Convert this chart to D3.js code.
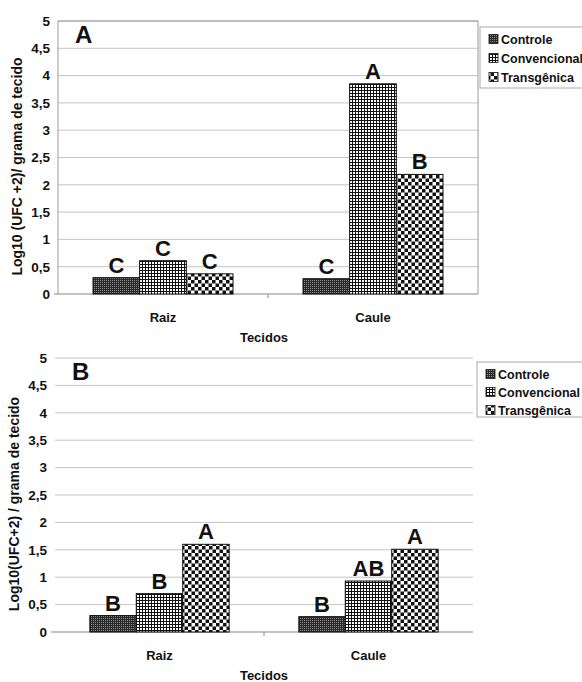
<!DOCTYPE html>
<meta charset="utf-8">
<style>
body {
  margin: 0;
  background: #fff;
}
svg text {
  font-family: "Liberation Sans", Arial, sans-serif;
  font-weight: bold;
  fill: #111;
}
.grid line {
  stroke: #c4c4c4;
  stroke-width: 1;
}
.axis--y path, .axis--y line {
  display: none;
}
.axis--y text {
  font-size: 13.5px;
  font-family: "Liberation Sans", Arial, sans-serif;
}
</style>
<body>
<svg width="582" height="682"></svg>
<script src="https://d3js.org/d3.v7.min.js"></script>
<script>

// data
var categories = ["Raiz", "Caule"];
var series = ["Controle", "Convencional", "Transgênica"];
var yTicks = [0, 0.5, 1, 1.5, 2, 2.5, 3, 3.5, 4, 4.5, 5];

var valuesA = [[0.30, 0.61, 0.37], [0.28, 3.85, 2.19]];
var lettersA = [["C", "C", "C"], ["C", "A", "B"]];

var valuesB = [[0.30, 0.70, 1.60], [0.28, 0.93, 1.51]];
var lettersB = [["B", "B", "A"], ["B", "AB", "A"]];

var ptBR = d3.formatLocale({decimal: ",", thousands: ".", grouping: [3], currency: ["R$", ""]});
var fmt = function(d) { return ptBR.format("~g")(d); };

var svg = d3.select("svg");

// fill patterns, one per series
var defs = svg.append("defs");

var p1 = defs.append("pattern").attr("id", "pat0")
    .attr("patternUnits", "userSpaceOnUse").attr("width", 2).attr("height", 2);
p1.append("rect").attr("width", 2).attr("height", 2).attr("fill", "#2a2a2a");
p1.append("rect").attr("width", 1).attr("height", 1).attr("fill", "#8a8a8a");

var p2 = defs.append("pattern").attr("id", "pat1")
    .attr("patternUnits", "userSpaceOnUse").attr("width", 3).attr("height", 3);
p2.append("rect").attr("width", 3).attr("height", 3).attr("fill", "#fff");
p2.append("rect").attr("width", 3).attr("height", 1).attr("fill", "#111");
p2.append("rect").attr("width", 1).attr("height", 3).attr("fill", "#111");

var p3 = defs.append("pattern").attr("id", "pat2")
    .attr("patternUnits", "userSpaceOnUse").attr("width", 7).attr("height", 7);
p3.append("rect").attr("width", 7).attr("height", 7).attr("fill", "#fff");
p3.append("rect").attr("width", 3.5).attr("height", 3.5).attr("fill", "#111");
p3.append("rect").attr("x", 3.5).attr("y", 3.5).attr("width", 3.5).attr("height", 3.5).attr("fill", "#111");

function drawPanel(cfg) {
  var x = d3.scaleBand().domain(categories).range([cfg.left, cfg.right]);
  var x1 = d3.scaleBand().domain(series).range([0, x.bandwidth()]).paddingOuter(0.75);
  var y = d3.scaleLinear().domain([0, 5]).range([cfg.bottom, cfg.top]);

  var g = svg.append("g");

  // gridlines
  g.append("g").attr("class", "grid")
    .selectAll("line")
    .data(yTicks.filter(function(d) { return d > 0; }))
    .enter().append("line")
      .attr("x1", cfg.left).attr("x2", cfg.right)
      .attr("y1", function(d) { return y(d); })
      .attr("y2", function(d) { return y(d); });

  if (cfg.frame) {
    g.append("path")
      .attr("d", "M" + cfg.left + "," + cfg.bottom + "V" + cfg.top + "H" + cfg.right + "V" + cfg.bottom)
      .attr("fill", "none").attr("stroke", "#9a9a9a").attr("stroke-width", 1);
  }

  // baseline with category ticks
  g.append("line")
    .attr("x1", cfg.left - 4).attr("x2", cfg.right)
    .attr("y1", y(0)).attr("y2", y(0))
    .attr("stroke", "#888").attr("stroke-width", 1.2);
  g.selectAll(".xtick")
    .data(categories.slice(1))
    .enter().append("line")
      .attr("x1", function(d) { return x(d); })
      .attr("x2", function(d) { return x(d); })
      .attr("y1", y(0)).attr("y2", y(0) + 4)
      .attr("stroke", "#888");

  g.append("g")
    .attr("class", "axis axis--y")
    .attr("transform", "translate(" + (cfg.left - 8) + ",0)")
    .call(d3.axisLeft(y).tickValues(yTicks).tickFormat(fmt).tickSize(0).tickPadding(0));

  // bars
  categories.forEach(function(c, i) {
    var grp = g.append("g").attr("transform", "translate(" + x(c) + ",0)");
    grp.selectAll("rect")
      .data(cfg.values[i])
      .enter().append("rect")
        .attr("x", function(d, j) { return x1(series[j]); })
        .attr("y", function(d) { return y(d); })
        .attr("width", x1.bandwidth())
        .attr("height", function(d) { return y(0) - y(d); })
        .attr("fill", function(d, j) { return "url(#pat" + j + ")"; })
        .attr("stroke", "#111").attr("stroke-width", 1);
    grp.selectAll(".lett")
      .data(cfg.letters[i])
      .enter().append("text")
        .attr("x", function(d, j) { return x1(series[j]) + x1.bandwidth() / 2; })
        .attr("y", function(d, j) { return y(cfg.values[i][j]) - 5; })
        .attr("text-anchor", "middle")
        .style("font-size", "22px")
        .text(function(d) { return d; });
  });

  // category labels
  g.selectAll(".cat")
    .data(categories)
    .enter().append("text")
      .attr("x", function(d) { return x(d) + x.bandwidth() / 2; })
      .attr("y", cfg.bottom + 28)
      .attr("text-anchor", "middle")
      .style("font-size", "13px")
      .text(function(d) { return d; });

  g.append("text")
    .attr("x", 264).attr("y", cfg.bottom + 48)
    .attr("text-anchor", "middle")
    .style("font-size", "13px")
    .text("Tecidos");

  g.append("text")
    .attr("transform", "translate(" + cfg.titleX + "," + ((cfg.top + cfg.bottom) / 2 + 9) + ") rotate(-90)")
    .attr("text-anchor", "middle")
    .style("font-size", "14px")
    .text(cfg.yTitle);

  // panel letter
  g.append("text")
    .attr("x", cfg.left + 17).attr("y", cfg.top + 22)
    .style("font-size", "24px")
    .text(cfg.panel);

  // legend
  var lg = svg.append("g").attr("transform", "translate(" + cfg.legX + "," + cfg.legY + ")");
  lg.append("rect")
    .attr("width", 120).attr("height", cfg.legH)
    .attr("fill", "#fff").attr("stroke", "#aaa");
  series.forEach(function(s, j) {
    var cy = 12 + j * cfg.legStep;
    lg.append("rect")
      .attr("x", 9).attr("y", cy - 4.5).attr("width", 9).attr("height", 9)
      .attr("fill", "url(#pat" + j + ")").attr("stroke", "#111").attr("stroke-width", 0.8);
    lg.append("text")
      .attr("x", 21).attr("y", cy + 4.5)
      .style("font-size", "12.5px")
      .text(s);
  });
}

drawPanel({
  left: 58, right: 478, top: 21, bottom: 294,
  values: valuesA, letters: lettersA, panel: "A", frame: true,
  yTitle: "Log10 (UFC +2)/ grama de tecido", titleX: 22,
  legX: 480, legY: 27, legH: 61, legStep: 19
});

drawPanel({
  left: 55, right: 473, top: 358, bottom: 632,
  values: valuesB, letters: lettersB, panel: "B", frame: false,
  yTitle: "Log10(UFC+2) / grama de tecido", titleX: 19,
  legX: 477, legY: 362, legH: 55, legStep: 18
});

</script>
</body>
